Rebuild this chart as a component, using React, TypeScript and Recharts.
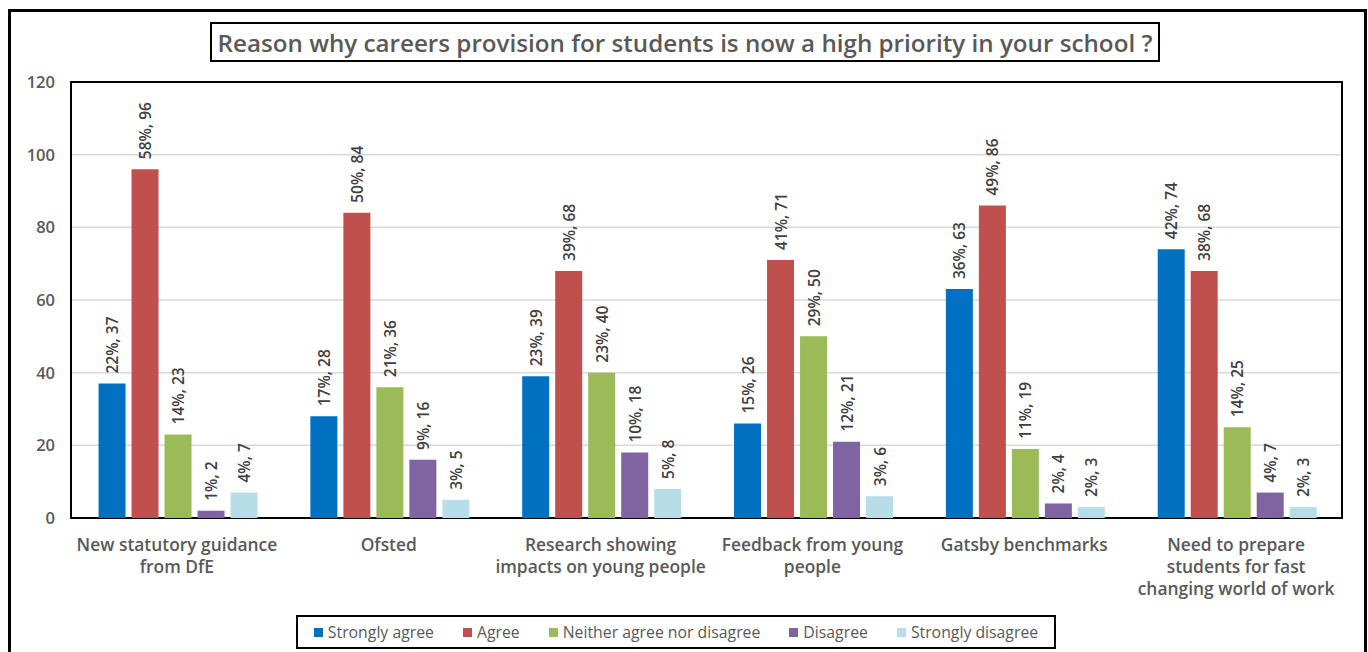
import { BarChart, Bar, XAxis, YAxis, CartesianGrid, LabelList, ReferenceArea } from "recharts";

const categories = [
  "New statutory guidance|from DfE",
  "Ofsted",
  "Research showing|impacts on young people",
  "Feedback from young|people",
  "Gatsby benchmarks",
  "Need to prepare|students for fast|changing world of work",
];

const seriesNames = ["Strongly agree", "Agree", "Neither agree nor disagree", "Disagree", "Strongly disagree"];
const seriesColors = ["#0070C0", "#C0504D", "#9BBB59", "#8064A2", "#B7DEE8"];

const stronglyAgree = [37, 28, 39, 26, 63, 74];
const agree = [96, 84, 68, 71, 86, 68];
const neither = [23, 36, 40, 50, 19, 25];
const disagree = [2, 16, 18, 21, 4, 7];
const stronglyDisagree = [7, 5, 8, 6, 3, 3];

const stronglyAgreePct = [22, 17, 23, 15, 36, 42];
const agreePct = [58, 50, 39, 41, 49, 38];
const neitherPct = [14, 21, 23, 29, 11, 14];
const disagreePct = [1, 9, 10, 12, 2, 4];
const stronglyDisagreePct = [4, 3, 5, 3, 2, 2];

const yTicks = [0, 20, 40, 60, 80, 100, 120];

const values = [stronglyAgree, agree, neither, disagree, stronglyDisagree];
const pcts = [stronglyAgreePct, agreePct, neitherPct, disagreePct, stronglyDisagreePct];

const data = categories.map((name, i) => {
  const row: Record<string, number | string> = { name };
  seriesNames.forEach((s, k) => {
    row[`s${k}`] = values[k][i];
  });
  return row;
});

const FONT = "'Open Sans', Lato, sans-serif";
const TEXT = "#595959";

function CategoryTick(props: any) {
  const { x, y, payload } = props;
  const lines = String(payload.value).split("|");
  return (
    <g>
      {lines.map((line: string, i: number) => (
        <text
          key={i}
          x={x}
          y={y + 18 + i * 22}
          textAnchor="middle"
          dominantBaseline="central"
          fill={TEXT}
          fontFamily={FONT}
          fontWeight={600}
          fontSize={17.4}
        >
          {line}
        </text>
      ))}
    </g>
  );
}

function makeLabel(k: number) {
  return (props: any) => {
    const { x, y, width, index } = props;
    const cx = x + width / 2;
    const ty = y - 10;
    return (
      <text
        x={cx}
        y={ty}
        transform={`rotate(-90, ${cx}, ${ty})`}
        textAnchor="start"
        dominantBaseline="central"
        fill="#404040"
        fontFamily={FONT}
        fontWeight={600}
        fontSize={15.5}
      >
        {`${pcts[k][index]}%, ${values[k][index]}`}
      </text>
    );
  };
}

export default function App() {
  return (
    <div style={{ position: "relative", width: 1368, height: 652, overflow: "hidden", background: "#fff" }}>
      <style>{"body{margin:0}"}</style>
      <div
        style={{
          position: "absolute",
          left: 8,
          top: 9,
          width: 1353,
          height: 660,
          border: "3px solid #000",
        }}
      />
      <div
        style={{
          position: "absolute",
          left: 210,
          top: 22,
          width: 946,
          height: 36,
          border: "2px solid #000",
          display: "flex",
          alignItems: "center",
          justifyContent: "center",
          fontFamily: FONT,
          fontWeight: 600,
          fontSize: 24.2,
          color: TEXT,
          whiteSpace: "nowrap",
        }}
      >
        Reason why careers provision for students is now a high priority in your school ?
      </div>
      <div style={{ position: "absolute", left: 0, top: 0 }}>
        <BarChart
          width={1368}
          height={652}
          data={data}
          margin={{ top: 82, right: 26, left: 11, bottom: 54 }}
          barCategoryGap="13%"
          barGap={6}
        >
          <CartesianGrid vertical={false} stroke="#D9D9D9" strokeWidth={1.5} />
          <XAxis
            dataKey="name"
            axisLine={false}
            tickLine={false}
            height={80}
            interval={0}
            tick={<CategoryTick />}
          />
          <YAxis
            width={60}
            domain={[0, 120]}
            ticks={yTicks}
            axisLine={false}
            tickLine={false}
            tickMargin={10}
            tick={{ fill: TEXT, fontFamily: FONT, fontWeight: 600, fontSize: 16.5 }}
          />
          {seriesNames.map((s, k) => (
            <Bar key={s} dataKey={`s${k}`} name={s} fill={seriesColors[k]} isAnimationActive={false}>
              <LabelList dataKey={`s${k}`} content={makeLabel(k)} />
            </Bar>
          ))}
          <ReferenceArea y1={0} y2={120} fill="none" stroke="#000" strokeWidth={2} ifOverflow="visible" />
        </BarChart>
      </div>
      <div
        style={{
          position: "absolute",
          left: 296,
          top: 615,
          width: 756,
          height: 30,
          border: "2px solid #000",
          display: "flex",
          alignItems: "center",
          justifyContent: "center",
          gap: 29,
          fontFamily: FONT,
          fontWeight: 400,
          fontSize: 15.8,
          color: TEXT,
        }}
      >
        {seriesNames.map((s, k) => (
          <div key={s} style={{ display: "flex", alignItems: "center", gap: 5 }}>
            <span style={{ display: "inline-block", width: 9, height: 9, background: seriesColors[k] }} />
            <span>{s}</span>
          </div>
        ))}
      </div>
    </div>
  );
}
